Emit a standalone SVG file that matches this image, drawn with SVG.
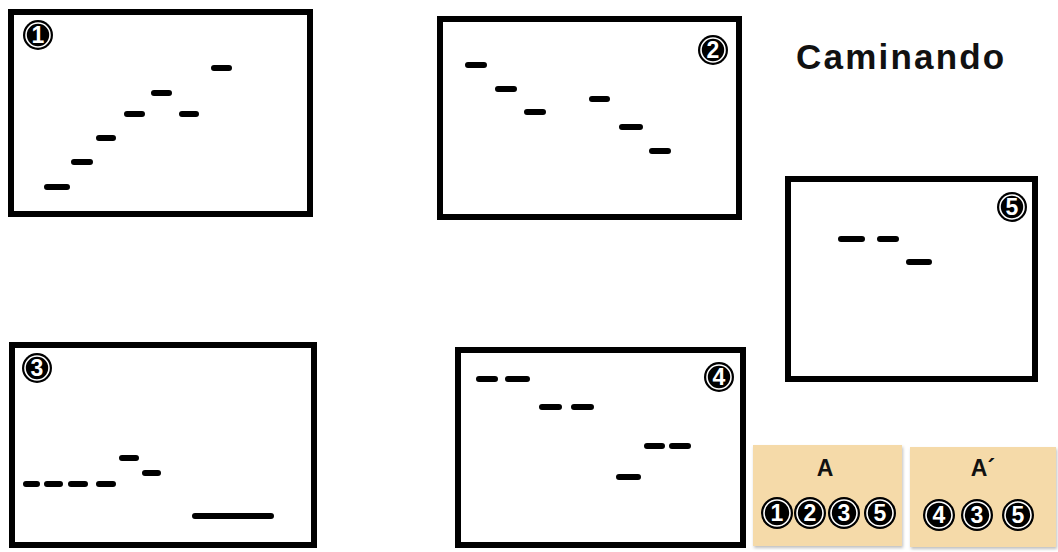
<svg xmlns="http://www.w3.org/2000/svg" width="1058" height="552" viewBox="0 0 1058 552">
<style>
.frame{fill:#fff;stroke:#000;stroke-width:6}
.d{stroke:#000;stroke-width:6;stroke-linecap:round;fill:none}
.bo{fill:#000}
.bi{fill:#000;stroke:#fff;stroke-width:1.6}
.bn{fill:#fff;font-family:"Liberation Sans",Arial,sans-serif;font-weight:bold;font-size:23px;text-anchor:middle}
.panel{fill:#F5DAA9}
.pt{fill:#111;font-family:"Liberation Sans",Arial,sans-serif;font-weight:bold;font-size:23px;text-anchor:middle}
.title{fill:#111;font-family:"Liberation Sans",Arial,sans-serif;font-weight:bold;font-size:35px;letter-spacing:2.2px}
</style>
<defs>
<filter id="sh" x="-5%" y="-5%" width="112%" height="115%">
<feDropShadow dx="1" dy="2" stdDeviation="1.5" flood-color="#000" flood-opacity="0.25"/>
</filter>
</defs>
<rect width="1058" height="552" fill="#fff"/>

<g id="box1">
<rect class="frame" x="11" y="12" width="299" height="202"/>
<circle class="bo" cx="38" cy="35" r="15"/><circle class="bi" cx="38" cy="35" r="12"/>
<text class="bn" x="38" y="43">1</text>
<path class="d" d="M47 187H67M74 162H90M99 138H113M127 114H142M154 93H169M182 114H196M214 68H229"/>
</g>

<g id="box2">
<rect class="frame" x="440" y="19" width="299" height="198"/>
<circle class="bo" cx="713" cy="50" r="15"/><circle class="bi" cx="713" cy="50" r="12"/>
<text class="bn" x="713" y="58">2</text>
<path class="d" d="M468 65H484M498 89H514M527 112H543M592 99H607M622 127H640M652 151H668"/>
</g>

<g id="box5">
<rect class="frame" x="788" y="179" width="247" height="200"/>
<circle class="bo" cx="1012" cy="207" r="15"/><circle class="bi" cx="1012" cy="207" r="12"/>
<text class="bn" x="1012" y="215">5</text>
<path class="d" d="M841 239H862M880 239H896M909 262H929"/>
</g>

<g id="box3">
<rect class="frame" x="12" y="345" width="302" height="200"/>
<circle class="bo" cx="37" cy="368" r="15"/><circle class="bi" cx="37" cy="368" r="12"/>
<text class="bn" x="37" y="376">3</text>
<path class="d" d="M26 484H37M47 484H60M71 484H85M99 484H113M122 458H136M145 473H158M195 516H271"/>
</g>

<g id="box4">
<rect class="frame" x="458" y="350" width="285" height="195"/>
<circle class="bo" cx="719" cy="377" r="15"/><circle class="bi" cx="719" cy="377" r="12"/>
<text class="bn" x="719" y="385">4</text>
<path class="d" d="M479 379H495M508 379H527M542 407H559M574 407H591M647 446H662M672 446H688M619 477H638"/>
</g>

<g id="title">
<text class="title" x="796" y="69">Caminando</text>
</g>

<g id="panelA">
<rect class="panel" x="753" y="445" width="149" height="101" filter="url(#sh)"/>
<text class="pt" x="825" y="476">A</text>
<circle class="bo" cx="777" cy="513" r="16"/><circle class="bi" cx="777" cy="513" r="13"/><text class="bn" x="777" y="521">1</text>
<circle class="bo" cx="810" cy="513" r="16"/><circle class="bi" cx="810" cy="513" r="13"/><text class="bn" x="810" y="521">2</text>
<circle class="bo" cx="844" cy="513" r="16"/><circle class="bi" cx="844" cy="513" r="13"/><text class="bn" x="844" y="521">3</text>
<circle class="bo" cx="880" cy="513" r="16"/><circle class="bi" cx="880" cy="513" r="13"/><text class="bn" x="880" y="521">5</text>
</g>

<g id="panelA2">
<rect class="panel" x="910" y="447" width="146" height="100" filter="url(#sh)"/>
<text class="pt" x="983" y="476">A´</text>
<circle class="bo" cx="939" cy="515" r="16"/><circle class="bi" cx="939" cy="515" r="13"/><text class="bn" x="939" y="523">4</text>
<circle class="bo" cx="977" cy="515" r="16"/><circle class="bi" cx="977" cy="515" r="13"/><text class="bn" x="977" y="523">3</text>
<circle class="bo" cx="1018" cy="515" r="16"/><circle class="bi" cx="1018" cy="515" r="13"/><text class="bn" x="1018" y="523">5</text>
</g>
</svg>
